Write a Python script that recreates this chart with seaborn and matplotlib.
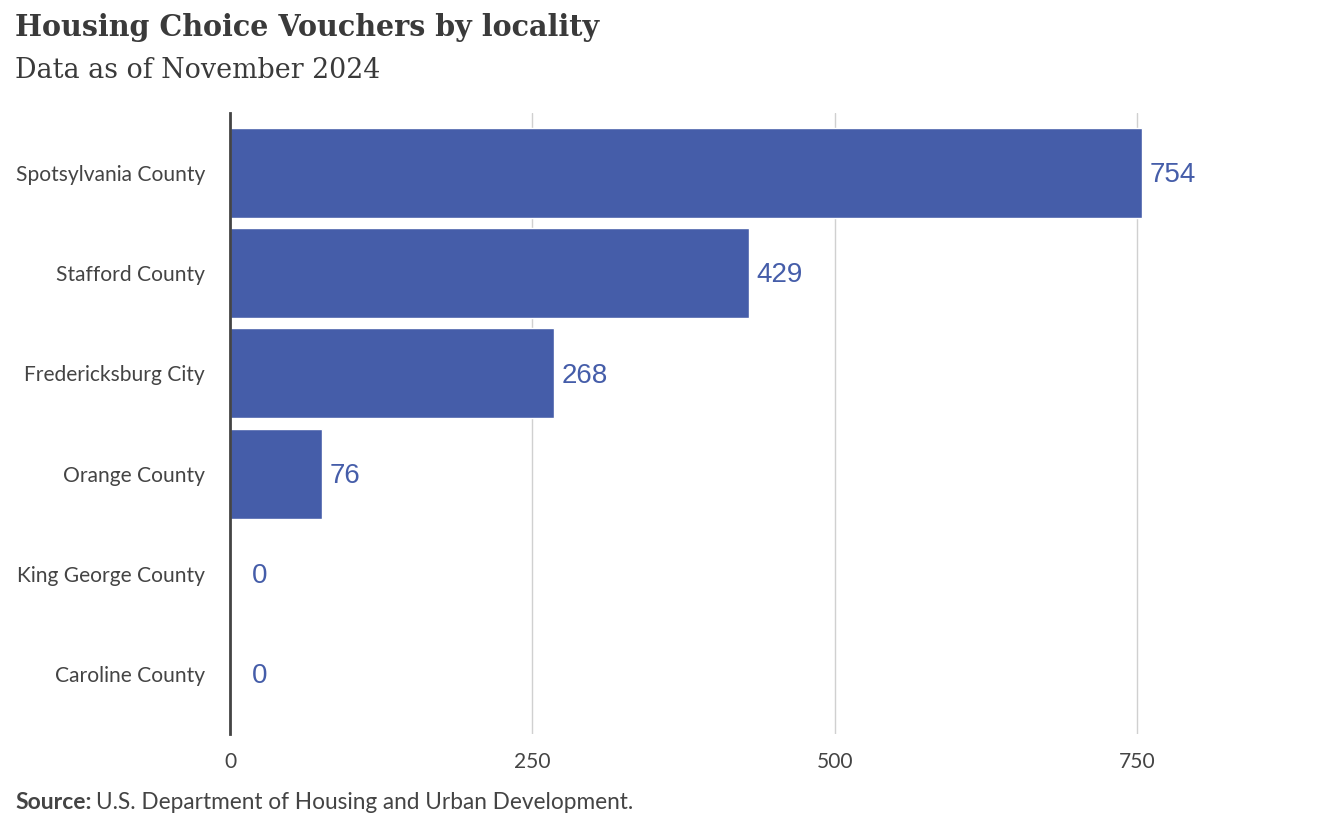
import pandas as pd
import seaborn as sns
import matplotlib.pyplot as plt

localities = ['Spotsylvania County', 'Stafford County', 'Fredericksburg City',
              'Orange County', 'King George County', 'Caroline County']
vouchers = [754, 429, 268, 76, 0, 0]
x_ticks = [0, 250, 500, 750]

title = 'Housing Choice Vouchers by locality'
subtitle = 'Data as of November 2024'

bar_color = '#455DA9'
text_color = '#444444'

df = pd.DataFrame({'Locality': localities, 'Vouchers': vouchers})

sns.set_style('white')
plt.rcParams['font.family'] = ['Lato', 'DejaVu Sans']

fig = plt.figure(figsize=(13.44, 8.3), dpi=100)
ax = fig.add_axes([230 / 1344, 1 - 734 / 830, 1090 / 1344, 621 / 830])

sns.barplot(data=df, x='Vouchers', y='Locality', color=bar_color,
            saturation=1, width=0.9, ax=ax, orient='h')

ax.set_xlim(0, 1090 / (907 / 750))
ax.set_ylim(5.6, -0.6)
ax.set_xticks(x_ticks)
ax.set_xticklabels([str(t) for t in x_ticks])
ax.xaxis.grid(True, color='#d0d0d0', linewidth=1)
ax.set_axisbelow(True)
ax.set_xlabel('')
ax.set_ylabel('')

for side in ['top', 'right', 'bottom']:
    ax.spines[side].set_visible(False)
ax.spines['left'].set_color('#444444')
ax.spines['left'].set_linewidth(2)
ax.spines['left'].set_zorder(5)

ax.tick_params(axis='both', length=0, labelsize=15.1, colors=text_color)
ax.tick_params(axis='y', pad=18)
ax.tick_params(axis='x', pad=13)

# value labels just past the bar end
for i, v in enumerate(vouchers):
    ax.annotate(str(v), xy=(v, i), xytext=(5.5 if v > 0 else 16, -1.5),
                textcoords='offset points', va='center', ha='left',
                fontsize=20, color=bar_color, family='Liberation Sans')

fig.text(15 / 1344, 1 - 27 / 830, title, fontsize=20.6, fontweight='bold',
         color='#3a3a3a', family='DejaVu Serif', va='center', ha='left')
fig.text(15 / 1344, 1 - 70 / 830, subtitle, fontsize=19.4, color='#3a3a3a',
         family='DejaVu Serif', va='center', ha='left')

fig.text(15 / 1344, 1 - 802 / 830, 'Source:', fontsize=16.5, fontweight='bold',
         color=text_color, va='center', ha='left')
fig.text(96 / 1344, 1 - 802 / 830, 'U.S. Department of Housing and Urban Development.',
         fontsize=16.3, color=text_color, va='center', ha='left')

fig.savefig('out.png', dpi=100)
